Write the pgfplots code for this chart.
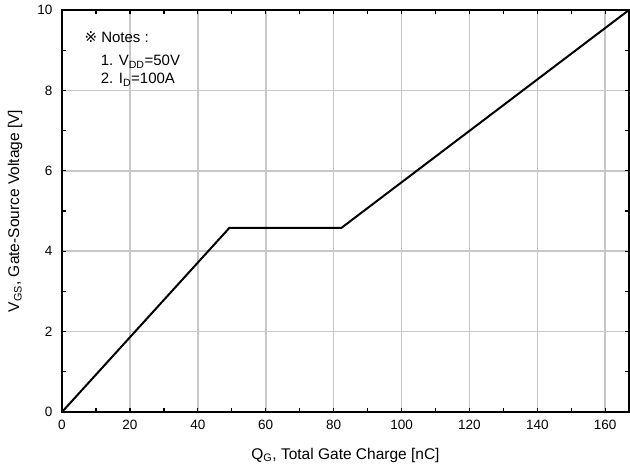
\documentclass[border=0pt]{standalone}
\usepackage{fontspec}
\setmainfont{Liberation Sans}
\newfontfamily\symfont{DejaVu Sans}
\usepackage{pgfplots}
\pgfplotsset{compat=1.18}

% gate charge curve
\pgfplotstableread{
x y
0 0
49.3 4.58
82.3 4.58
167 10
}\gatecharge

\begin{document}
\begin{tikzpicture}
\begin{axis}[
  name=ax,
  scale only axis,
  width=567pt, height=402pt,
  xmin=0, xmax=167, ymin=0, ymax=10,
  xtick={0,20,...,160}, ytick={0,2,...,10},
  minor tick num=1,
  xmajorgrids=true, ymajorgrids=true,
  xminorgrids=false, yminorgrids=false,
  major grid style={draw=black!22, line width=1.6pt},
  axis line style={line width=2.6pt},
  tick style={black, line width=1.3pt},
  major tick length=4pt, minor tick length=4pt,
  tick align=inside,
  /pgf/number format/assume math mode=true,
  tick label style={font=\fontsize{13.5}{15}\selectfont},
  xticklabel style={yshift=-5pt},
  yticklabel style={xshift=-6pt},
  label style={font=\fontsize{15.5}{17}\selectfont},
  xlabel={Q\textsubscript{G}, Total Gate Charge [nC]},
  ylabel={V\textsubscript{GS}, Gate-Source Voltage [V]},
  xlabel style={at={(axis description cs:0.5,0)}, anchor=center, yshift=-43pt},
  ylabel style={at={(axis description cs:0,0.5)}, anchor=center, yshift=47pt},
  clip=false,
]
\addplot[black, line width=2pt] table[x=x, y=y] {\gatecharge};
\node[anchor=base west, font=\fontsize{15}{17}\selectfont]
  at (axis cs:5.6,9.18) {{\symfont ※} Notes :};
\node[anchor=base west, font=\fontsize{15}{17}\selectfont]
  at (axis cs:10.4,8.61) {1. V\textsubscript{DD}=50V};
\node[anchor=base west, font=\fontsize{15}{17}\selectfont]
  at (axis cs:10.4,8.16) {2. I\textsubscript{D}=100A};
\end{axis}
\pgfresetboundingbox
\path ([xshift=-62pt,yshift=-58pt]ax.south west) rectangle ([xshift=1pt,yshift=10pt]ax.north east);
\end{tikzpicture}
\end{document}
